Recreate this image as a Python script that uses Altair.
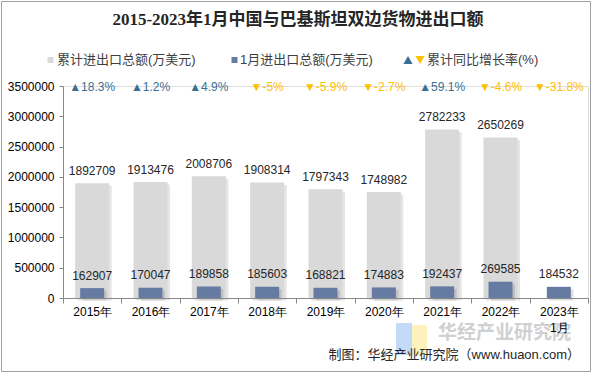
import altair as alt
import pandas as pd

years = ["2015年", "2016年", "2017年", "2018年", "2019年", "2020年", "2021年", "2022年", "2023年1月"]
cumulative = [1892709, 1913476, 2008706, 1908314, 1797343, 1748982, 2782233, 2650269, None]
january = [162907, 170047, 189858, 185603, 168821, 174883, 192437, 269585, 184532]
growth = [18.3, 1.2, 4.9, -5, -5.9, -2.7, 59.1, -4.6, -31.8]
y_ticks = [0, 500000, 1000000, 1500000, 2000000, 2500000, 3000000, 3500000]
title_text = "2015-2023年1月中国与巴基斯坦双边货物进出口额"

FONT = "Liberation Sans, Arial, Noto Sans CJK SC"
GRAY = "#d9d9d9"
BLUE = "#667ba2"
UP = "#3a6f95"
DOWN = "#ffc000"

df = pd.DataFrame({"year": years, "cum": cumulative, "jan": january, "growth": growth})
df["glabel"] = [("▲" if g >= 0 else "▼") + f"{g:g}%" for g in growth]
df["dir"] = ["up" if g >= 0 else "down" for g in growth]

W, H = 525, 212

x_enc = alt.X(
    "year:N", sort=years, title=None,
    scale=alt.Scale(paddingInner=0, paddingOuter=0),
    axis=alt.Axis(
        labelAngle=0, tickBand="extent", tickSize=5, labelPadding=3,
        labelExpr="datum.value == '2023年1月' ? ['2023年', '1月'] : datum.label",
        labelLineHeight=16, labelFontSize=12, zindex=1,
    ),
)
y_scale = alt.Scale(domain=[0, 3500000])
y_axis = alt.Axis(values=y_ticks, format="d", grid=False, tickSize=4, labelOverlap=False,
                  labelPadding=5, labelFontSize=12, zindex=1)


def yq(field):
    return alt.Y(field, scale=y_scale, axis=y_axis, title=None)


base = alt.Chart(df)

gray_shadow = base.mark_bar(size=34, color="#8a8a8a", opacity=0.22, xOffset=2.5, yOffset=2.5).encode(
    x=x_enc, y=yq("cum:Q"))
gray_bars = base.mark_bar(size=34, color=GRAY).encode(x=x_enc, y=yq("cum:Q"))
blue_shadow = base.mark_bar(size=24, color="#5a5a5a", opacity=0.2, xOffset=2.5, yOffset=2.5).encode(
    x=x_enc, y=yq("jan:Q"))
blue_bars = base.mark_bar(size=24, color=BLUE).encode(x=x_enc, y=yq("jan:Q"))

gray_labels = base.mark_text(font=FONT, fontSize=12, color="#262626", baseline="middle", dy=-12.5).encode(
    x=x_enc, y=yq("cum:Q"), text=alt.Text("cum:Q", format="d"))
blue_labels = base.mark_text(font=FONT, fontSize=12, color="#262626", baseline="middle", dy=-12.5).encode(
    x=x_enc, y=yq("jan:Q"), text=alt.Text("jan:Q", format="d"))
growth_labels = base.mark_text(font=FONT, fontSize=12, baseline="middle", dy=1).encode(
    x=x_enc, y=alt.value(0), text="glabel:N",
    color=alt.Color("dir:N", scale=alt.Scale(domain=["up", "down"], range=[UP, DOWN]), legend=None))

one = pd.DataFrame({"a": [0]})
border = alt.Chart(one).mark_rect(fill=None, stroke="#a0a0a0", strokeWidth=1).encode(
    x=alt.value(-61.5), x2=alt.value(527.5), y=alt.value(-84.5), y2=alt.value(285.5))

leg_sq1 = alt.Chart(one).mark_square(size=36, color=GRAY, opacity=1).encode(x=alt.value(-12.5), y=alt.value(-26))
leg_sq2 = alt.Chart(one).mark_square(size=36, color=BLUE, opacity=1).encode(x=alt.value(171.5), y=alt.value(-26))
leg_up = alt.Chart(one).mark_point(shape="triangle-up", size=85, filled=True, color=UP, opacity=1).encode(
    x=alt.value(345), y=alt.value(-26))
leg_dn = alt.Chart(one).mark_point(shape="triangle-down", size=85, filled=True, color=DOWN, opacity=1).encode(
    x=alt.value(357), y=alt.value(-26))


def txt(s, x, y, size=13, color="#404040", align="left", weight="normal", font=FONT):
    return alt.Chart(pd.DataFrame({"t": [s]})).mark_text(
        font=font, fontSize=size, color=color, align=align, baseline="middle", fontWeight=weight
    ).encode(x=alt.value(x), y=alt.value(y), text="t:N")


title = txt(title_text, 235, -66, size=17, color="#262626", align="center", weight="bold",
            font="Liberation Serif, Noto Sans CJK SC")
leg_t1 = txt("累计进出口总额(万美元)", -6, -26)
leg_t2 = txt("1月进出口总额(万美元)", 177, -26)
leg_t3 = txt("累计同比增长率(%)", 364, -26)

logo_b = alt.Chart(one).mark_rect(color="#bcd6f7", opacity=0.9).encode(
    x=alt.value(333), x2=alt.value(349), y=alt.value(237), y2=alt.value(269))
logo_y = alt.Chart(one).mark_rect(color="#fdf0b5", opacity=0.9).encode(
    x=alt.value(349), x2=alt.value(364), y=alt.value(239), y2=alt.value(269))
watermark = txt("华经产业研究院", 375, 247, size=19, color="#d0d0d0", weight="bold")
source = txt("制图：华经产业研究院（www.huaon.com）", 517, 269, size=13, color="#262626", align="right")

chart = alt.layer(
    border, logo_b, logo_y, watermark,
    gray_shadow, gray_bars, blue_shadow, blue_bars,
    gray_labels, blue_labels, growth_labels, title,
    leg_sq1, leg_sq2, leg_up, leg_dn, leg_t1, leg_t2, leg_t3, source,
).properties(
    width=W, height=H,
    padding={"left": 63, "top": 86, "right": 7, "bottom": 79},
    autosize=alt.AutoSizeParams(type="none"),
).configure_view(stroke=None).configure_axis(
    domainColor="#868686", tickColor="#868686", labelColor="#262626", labelFont=FONT,
).configure(background="white")

chart.save("out.html", embed_options={"renderer": "svg", "actions": False})
